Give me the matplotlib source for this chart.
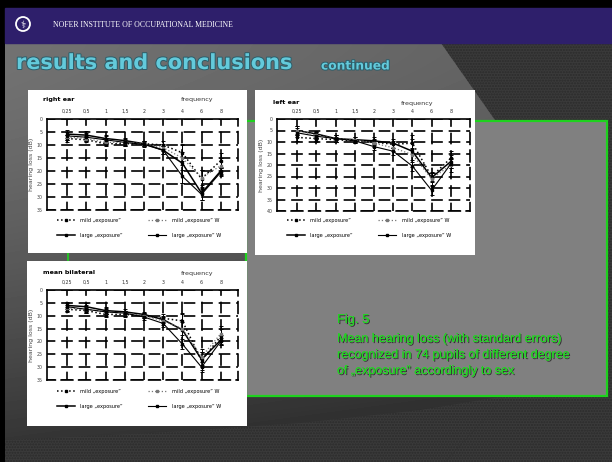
import numpy as np
import matplotlib
matplotlib.use("Agg")
import matplotlib.pyplot as plt
from matplotlib.patches import Rectangle, Polygon, Circle
import matplotlib.patheffects as pe

freq_labels = ["0,25", "0,5", "1", "1,5", "2", "3", "4", "6", "8"]
legend_labels = ["mild \u201eexposure\u201d", "large \u201eexposure\u201d",
                 "mild \u201eexposure\u201d W", "large \u201eexposure\u201d W"]

# right ear (dB) and standard errors
r_mild = [7.5, 8.0, 9.5, 9.5, 9.5, 10.0, 13.0, 23.0, 16.0]
r_mild_e = [1.2, 1.0, 1.0, 1.0, 1.0, 1.5, 3.0, 3.5, 3.0]
r_large = [5.8, 6.2, 7.5, 8.3, 9.5, 12.0, 17.0, 28.5, 20.0]
r_large_e = [1.5, 1.5, 1.2, 1.0, 1.0, 1.5, 7.5, 2.5, 1.5]
r_mild_w = [7.0, 7.5, 9.0, 9.0, 9.5, 11.0, 15.0, 22.5, 18.0]
r_mild_w_e = [1.0, 1.0, 1.0, 1.0, 1.0, 1.2, 2.5, 3.0, 3.0]
r_large_w = [6.5, 7.0, 8.0, 9.0, 9.8, 12.0, 22.0, 29.0, 20.5]
r_large_w_e = [1.5, 1.5, 1.5, 1.2, 1.0, 1.5, 2.5, 2.0, 1.5]

# left ear
l_mild = [8.0, 8.5, 9.0, 9.5, 10.0, 11.0, 10.5, 25.0, 17.0]
l_mild_e = [1.5, 1.5, 1.0, 1.0, 1.5, 1.5, 2.0, 2.0, 3.0]
l_large = [5.0, 6.5, 8.5, 9.0, 9.5, 10.5, 14.0, 25.5, 18.5]
l_large_e = [2.0, 1.5, 1.5, 1.0, 1.5, 2.0, 7.0, 2.0, 3.0]
l_mild_w = [5.0, 7.0, 8.5, 9.0, 10.5, 12.5, 15.5, 26.0, 20.0]
l_mild_w_e = [2.0, 1.5, 1.5, 1.0, 1.5, 1.5, 2.5, 2.5, 3.0]
l_large_w = [6.0, 7.5, 8.5, 9.5, 12.0, 14.0, 20.5, 31.0, 19.5]
l_large_w_e = [2.0, 2.0, 1.5, 1.0, 1.5, 1.5, 2.0, 2.0, 2.0]

# mean bilateral
m_mild = [7.5, 8.0, 9.5, 9.5, 10.0, 11.0, 12.0, 27.5, 18.0]
m_mild_e = [1.0, 1.0, 1.0, 1.0, 1.0, 1.5, 3.0, 3.5, 3.0]
m_large = [6.0, 6.5, 8.0, 8.5, 9.5, 11.5, 15.5, 27.0, 19.5]
m_large_e = [1.5, 1.5, 1.2, 1.0, 1.0, 1.5, 6.0, 3.0, 2.0]
m_mild_w = [7.0, 7.5, 8.5, 9.0, 10.0, 12.0, 15.0, 26.0, 17.0]
m_mild_w_e = [1.0, 1.0, 1.0, 1.0, 1.0, 1.5, 2.5, 3.0, 3.0]
m_large_w = [6.5, 7.5, 8.5, 9.0, 10.5, 13.0, 21.0, 30.0, 20.0]
m_large_w_e = [1.5, 1.5, 1.5, 1.0, 1.0, 1.5, 2.0, 2.0, 1.5]

W, H = 612, 462
fig = plt.figure(figsize=(6.12, 4.62), dpi=100)
fig.patch.set_facecolor("black")
bg = fig.add_axes([0, 0, 1, 1])
bg.axis("off")

# slide background
yy, xx = np.mgrid[43:462, 5:612]
v = 114 - 66 * ((yy - 43) / 419.0) ** 1.5 - 0.03 * (xx - 5)
bg.imshow(np.clip(v, 0, 255) / 255.0, cmap="gray", vmin=0, vmax=1,
          extent=(5, 612, 462, 43), aspect="auto", zorder=0)
tex = dict(facecolor="#3a3a3a", edgecolor="#2b2b2b", hatch="......", lw=0, zorder=1)
bg.add_patch(Polygon([(441, 43), (612, 43), (612, 462), (445, 462), (505, 396),
                      (520, 300), (515, 200), (495, 120)], **tex))
bg.add_patch(Polygon([(5, 440), (150, 433), (300, 423), (420, 410), (505, 396),
                      (445, 462), (5, 462)], **tex))

# header
bg.add_patch(Rectangle((5, 8), 607, 35, color="#2e1f6b", zorder=2))
bg.add_patch(Circle((23, 24), 7, fill=False, ec="white", lw=1.3, zorder=3))
bg.text(23, 24.5, "\u2695", color="white", fontsize=7, ha="center", va="center", zorder=3)
bg.text(53, 25, "NOFER INSTITUTE OF OCCUPATIONAL MEDICINE", color="white",
        fontsize=5.6, family="Liberation Serif", va="center", zorder=3)

outline = [pe.withStroke(linewidth=1.4, foreground="#2c5e6a")]
bg.text(16, 63, "results and conclusions", color="#63cadb", fontsize=15,
        fontweight="bold", va="center", path_effects=outline, zorder=3)
bg.text(321, 66, "continued", color="#63cadb", fontsize=8.8, fontweight="bold",
        va="center", path_effects=outline, zorder=3)

# green caption box
bg.add_patch(Rectangle((246, 121), 361, 275, fc="#808080", ec="#1ed21e", lw=1.6, zorder=4))
bg.plot([68, 68], [253, 262], color="#1ed21e", lw=1.2, zorder=4)
shadow = [pe.withSimplePatchShadow(offset=(0.8, -0.8), shadow_rgbFace="#2a2a2a", alpha=0.9),
          pe.Normal()]
bg.text(337, 323, "Fig. 5", color="#22d422", fontsize=9.3, family="Liberation Sans",
        path_effects=shadow, zorder=5)
caption = ["Mean hearing loss (with standard errors)",
           "recognized in 74 pupils of different degree",
           "of \u201eexposure\u201d accordingly to sex"]
for i, line in enumerate(caption):
    bg.text(337, 342 + 16 * i, line, color="#22d422", fontsize=9.0,
            family="Liberation Sans", path_effects=shadow, zorder=5)

# white chart panels
for (px, py, pw, ph) in [(28, 90, 219, 163), (255, 90, 220, 165), (27, 261, 220, 165)]:
    bg.add_patch(Rectangle((px, py), pw, ph, fc="white", ec="none", zorder=6))

bg.set_xlim(0, W)
bg.set_ylim(H, 0)

styles = [dict(ls=":", color="black", lw=1.1),
          dict(ls="-", color="black", lw=1.1),
          dict(ls=":", color="#777777", lw=0.9),
          dict(ls="-", color="black", lw=0.8)]


def chart(box, ymax, xmax, series, name, name_xy, freq_xy, leg_xy):
    x0, y0, x1, y1 = box
    ax = fig.add_axes([x0 / W, 1 - y1 / H, (x1 - x0) / W, (y1 - y0) / H])
    ax.set_facecolor("white")
    xs = np.arange(len(freq_labels))
    handles = []
    for (vals, errs), st in zip(series, styles):
        c = ax.errorbar(xs, vals, yerr=errs, marker="s", ms=1.5, capsize=1.2,
                        elinewidth=0.7, capthick=0.7, ecolor="black", zorder=3, **st)
        handles.append(c[0])
    ax.set_xlim(-1.05, xmax)
    ax.set_ylim(ymax, 0)
    ax.set_yticks(np.arange(0, ymax + 1, 5))
    ax.set_xticks(xs)
    ax.set_xticklabels(freq_labels)
    ax.xaxis.tick_top()
    ax.tick_params(axis="x", length=0, pad=3.5, labelsize=3.4, colors="#333333")
    ax.tick_params(axis="y", length=0, pad=3, labelsize=3.4, colors="#444444")
    ax.grid(True, color="black", lw=1.2, ls=(2, (7, 3.5)))
    for s in ["top", "left"]:
        ax.spines[s].set_linewidth(1.2)
    for s in ["bottom", "right"]:
        ax.spines[s].set_linewidth(1.2)
        ax.spines[s].set_linestyle((2, (7, 3.5)))
    ax.set_ylabel("hearing loss (dB)", fontsize=4.5, color="#444444", labelpad=2)
    ax.legend(handles, legend_labels, ncol=2, loc="upper left",
              bbox_to_anchor=(leg_xy[0] / W, 1 - leg_xy[1] / H),
              bbox_transform=fig.transFigure, frameon=False, fontsize=3.6,
              handlelength=3.5, handletextpad=1.2, columnspacing=5.0,
              labelspacing=2.0, borderpad=0, borderaxespad=0)
    bg.text(name_xy[0], name_xy[1], name, fontsize=4.6, fontweight="bold",
            va="center", zorder=7)
    bg.text(freq_xy[0], freq_xy[1], "frequency", fontsize=4.6, ha="center",
            va="center", color="#333333", zorder=7)
    return ax


chart((47, 119, 238, 210), 35, 8.9,
      [(r_mild, r_mild_e), (r_large, r_large_e), (r_mild_w, r_mild_w_e), (r_large_w, r_large_w_e)],
      "right ear", (43, 100), (197, 100), (57, 218))
chart((277, 119, 470, 211), 40, 9.0,
      [(l_mild, l_mild_e), (l_large, l_large_e), (l_mild_w, l_mild_w_e), (l_large_w, l_large_w_e)],
      "left ear", (273, 103), (417, 104), (287, 218))
chart((47, 290, 238, 380), 35, 8.9,
      [(m_mild, m_mild_e), (m_large, m_large_e), (m_mild_w, m_mild_w_e), (m_large_w, m_large_w_e)],
      "mean bilateral", (43, 272), (197, 274), (57, 389))

fig.savefig("out.png", dpi=100, facecolor=fig.get_facecolor())
